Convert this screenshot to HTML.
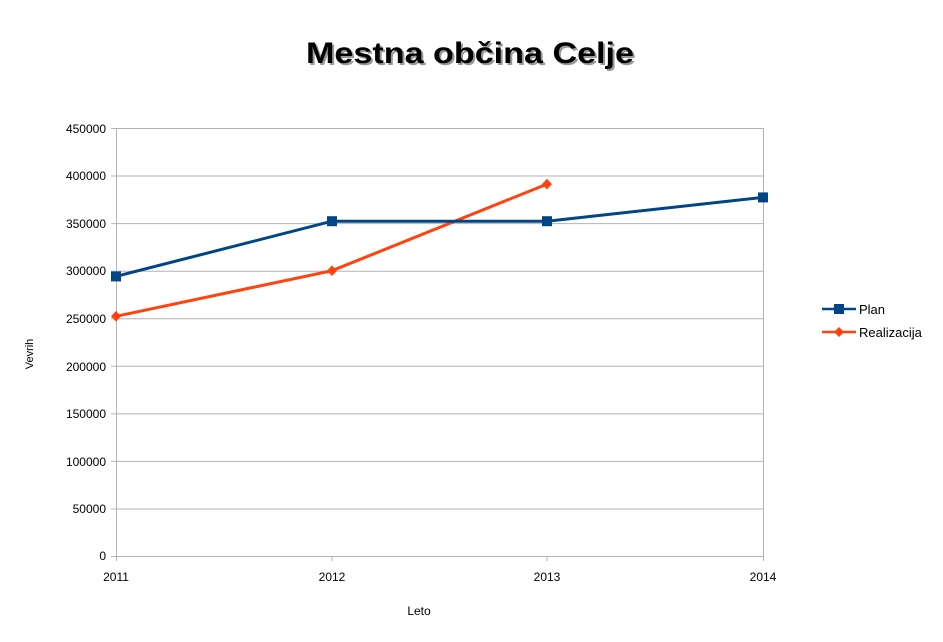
<!DOCTYPE html>
<html><head><meta charset="utf-8"><style>body{margin:0;background:#fff}svg{display:block}</style></head><body>
<svg width="943" height="642" xmlns="http://www.w3.org/2000/svg" font-family="Liberation Sans, sans-serif">
<rect width="943" height="642" fill="#fff"/>
<text x="306" y="63" font-size="30" font-weight="bold" fill="#999" transform="translate(2,2)" textLength="328" lengthAdjust="spacingAndGlyphs">Mestna občina Celje</text>
<text x="306" y="63" font-size="30" font-weight="bold" fill="#000" textLength="328" lengthAdjust="spacingAndGlyphs">Mestna občina Celje</text>
<g stroke="#b3b3b3" stroke-width="1">
<line x1="111" y1="128.5" x2="763" y2="128.5"/>
<line x1="111" y1="176" x2="763" y2="176"/>
<line x1="111" y1="223.6" x2="763" y2="223.6"/>
<line x1="111" y1="271.2" x2="763" y2="271.2"/>
<line x1="111" y1="318.7" x2="763" y2="318.7"/>
<line x1="111" y1="366.3" x2="763" y2="366.3"/>
<line x1="111" y1="413.9" x2="763" y2="413.9"/>
<line x1="111" y1="461.4" x2="763" y2="461.4"/>
<line x1="111" y1="509" x2="763" y2="509"/>
<line x1="111" y1="556.5" x2="763" y2="556.5"/>
<line x1="116.5" y1="128" x2="116.5" y2="561"/>
<line x1="763.5" y1="128" x2="763.5" y2="561"/>
<line x1="332" y1="556" x2="332" y2="561"/>
<line x1="547" y1="556" x2="547" y2="561"/>
</g>
<g font-size="12" fill="#000" text-anchor="end">
<text x="106" y="133">450000</text><text x="106" y="180">400000</text><text x="106" y="228">350000</text>
<text x="106" y="275">300000</text><text x="106" y="323">250000</text><text x="106" y="371">200000</text>
<text x="106" y="418">150000</text><text x="106" y="466">100000</text><text x="106" y="513">50000</text>
<text x="106" y="560">0</text>
</g>
<g font-size="12" text-anchor="middle">
<text x="116" y="581">2011</text><text x="332" y="581">2012</text><text x="547" y="581">2013</text><text x="763" y="581">2014</text>
<text x="419" y="615">Leto</text>
</g>
<text transform="translate(33,354) rotate(-90)" font-size="11" text-anchor="middle">Vevrih</text>
<polyline points="116,316.3 332,270.7 547,184.1" fill="none" stroke="#ff420e" stroke-width="3"/>
<g fill="#ff420e">
<polygon points="116,311 121,316.3 116,321.6 111,316.3"/>
<polygon points="332,265.4 337,270.7 332,276 327,270.7"/>
<polygon points="547,178.8 552,184.1 547,189.4 542,184.1"/>
</g>
<polyline points="116,276.4 332,221.2 547,221.2 763,197.4" fill="none" stroke="#004586" stroke-width="3"/>
<g fill="#004586">
<rect x="111" y="271.4" width="10" height="10"/><rect x="327" y="216.2" width="10" height="10"/>
<rect x="542" y="216.2" width="10" height="10"/><rect x="758" y="192.4" width="10" height="10"/>
</g>
<line x1="822" y1="309" x2="856" y2="309" stroke="#004586" stroke-width="2.5"/>
<rect x="834" y="304" width="10" height="10" fill="#004586"/>
<text x="859" y="314" font-size="13">Plan</text>
<line x1="822" y1="332" x2="856" y2="332" stroke="#ff420e" stroke-width="2.5"/>
<polygon points="839,327 844,332 839,337 834,332" fill="#ff420e"/>
<text x="859" y="337" font-size="13">Realizacija</text>
</svg>
</body></html>
